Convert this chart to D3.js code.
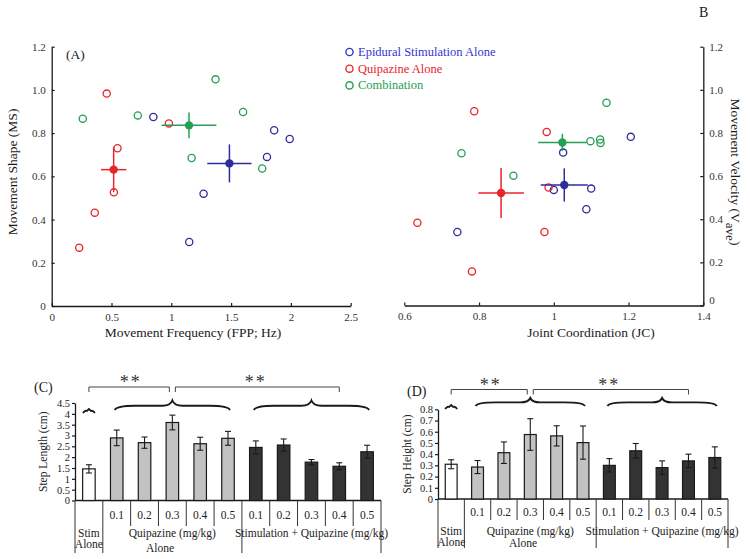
<!DOCTYPE html>
<html><head><meta charset="utf-8">
<script src="https://cdn.jsdelivr.net/npm/d3@7"></script>
<style>
html,body{margin:0;padding:0;background:#fff;}
svg{display:block;font-family:"Liberation Serif","Times New Roman",serif;}
svg text{font-family:"Liberation Serif","Times New Roman",serif;}
</style></head>
<body>
<svg id="c" width="750" height="559"></svg>
<script>
// ---------- DATA ----------
const legendLabels = ["Epidural Stimulation Alone", "Quipazine Alone", "Combination"];
// Panel A: Movement Frequency (x) vs Movement Shape (y)
const epiFreq = [0.85, 1.86, 1.99, 1.80, 1.27, 1.15];
const epiShape = [0.875, 0.813, 0.773, 0.690, 0.520, 0.296];
const quiFreq = [0.46, 0.98, 0.55, 0.52, 0.36, 0.23];
const quiShape = [0.983, 0.845, 0.730, 0.526, 0.432, 0.270];
const comFreq = [1.37, 1.60, 0.26, 0.72, 1.17, 1.76];
const comShape = [1.049, 0.898, 0.867, 0.882, 0.685, 0.636];
const meanFreq = [1.486, 0.518, 1.148];
const meanFreqErr = [0.185, 0.106, 0.229];
const meanShape = [0.660, 0.631, 0.836];
const meanShapeErr = [0.088, 0.104, 0.060];
// Panel B: Joint Coordination (x) vs Movement Velocity (y)
const epiJC = [1.206, 1.025, 1.100, 1.000, 1.087, 0.742];
const epiVel = [0.782, 0.709, 0.542, 0.536, 0.446, 0.341];
const quiJC = [0.787, 0.981, 0.986, 0.635, 0.975, 0.781];
const quiVel = [0.901, 0.805, 0.547, 0.384, 0.341, 0.158];
const comJC = [1.141, 1.098, 1.124, 1.125, 0.753, 0.892];
const comVel = [0.940, 0.762, 0.770, 0.754, 0.706, 0.602];
const meanJC = [1.028, 0.859, 1.023];
const meanJCErr = [0.063, 0.061, 0.065];
const meanVel = [0.559, 0.522, 0.756];
const meanVelErr = [0.077, 0.116, 0.040];
// Ticks
const xTicksA = [0, 0.5, 1, 1.5, 2, 2.5];
const xTickLabelsA = ["0", "0.5", "1", "1.5", "2", "2.5"];
const xTicksB = [0.6, 0.8, 1, 1.2, 1.4];
const xTickLabelsB = ["0.6", "0.8", "1", "1.2", "1.4"];
const yTicksAB = [0, 0.2, 0.4, 0.6, 0.8, 1.0, 1.2];
const yTickLabelsAB = ["0", "0.2", "0.4", "0.6", "0.8", "1.0", "1.2"];
// Panels C & D: bars
const barGroups = ["stim", "qui", "qui", "qui", "qui", "qui", "comb", "comb", "comb", "comb", "comb"];
const doseLabels = ["", "0.1", "0.2", "0.3", "0.4", "0.5", "0.1", "0.2", "0.3", "0.4", "0.5"];
const stepLength = [1.46, 2.89, 2.67, 3.60, 2.62, 2.87, 2.45, 2.56, 1.77, 1.58, 2.25];
const stepLengthErr = [0.19, 0.36, 0.26, 0.34, 0.30, 0.32, 0.30, 0.28, 0.12, 0.16, 0.30];
const stepHeight = [0.31, 0.285, 0.413, 0.575, 0.563, 0.503, 0.30, 0.43, 0.28, 0.34, 0.37];
const stepHeightErr = [0.04, 0.058, 0.096, 0.141, 0.09, 0.148, 0.06, 0.065, 0.06, 0.06, 0.095];
const yTicksC = [0, 0.5, 1, 1.5, 2, 2.5, 3, 3.5, 4, 4.5];
const yTickLabelsC = ["0", "0.5", "1", "1.5", "2", "2.5", "3", "3.5", "4", "4.5"];
const yTicksD = [0, 0.1, 0.2, 0.3, 0.4, 0.5, 0.6, 0.7, 0.8];
const yTickLabelsD = ["0", "0.1", "0.2", "0.3", "0.4", "0.5", "0.6", "0.7", "0.8"];

// ---------- STYLE ----------
const colScatter = ["#2d2d9c", "#e8242c", "#23a052"];
const colLegend = ["#3434cf", "#e8242c", "#23a052"];
const barFill = {stim: "#ffffff", qui: "#c2c2c2", comb: "#333333"};
const ink = "#1a1a1a";
const serif = "'Liberation Serif','Times New Roman',serif";

const svg = d3.select("#c");

function fmtAxis(g) {
  g.attr("font-family", serif);
  g.selectAll("path.domain").attr("stroke", ink).attr("stroke-width", 1.3);
  g.selectAll(".tick line").attr("stroke", ink).attr("stroke-width", 1.2);
  g.selectAll(".tick text").attr("fill", "#333");
}

// ---------- SCATTER ----------
function scatter(opt) {
  const g = svg.append("g");
  const x = d3.scaleLinear().domain(opt.xDom).range(opt.xRange);
  const y = d3.scaleLinear().domain([0, 1.2]).range(opt.yRange);
  const xa = g.append("g").attr("transform", `translate(0,${opt.yRange[0]})`)
    .call(d3.axisBottom(x).tickValues(opt.xTicks).tickFormat((d, i) => opt.xLabels[i]).tickSize(-3).tickSizeOuter(0).tickPadding(7));
  fmtAxis(xa);
  xa.selectAll(".tick text").style("font-size", "11px");
  const axisX = opt.yRight ? opt.xRange[1] : opt.xRange[0];
  const ya = g.append("g").attr("transform", `translate(${axisX},0)`)
    .call((opt.yRight ? d3.axisRight(y) : d3.axisLeft(y)).tickValues(yTicksAB).tickFormat((d, i) => yTickLabelsAB[i]).tickSize(-3).tickSizeOuter(0).tickPadding(6));
  fmtAxis(ya);
  ya.selectAll(".tick text").style("font-size", "11px");
  if (opt.yRight) ya.selectAll(".tick").filter((d) => d === 0).select("text").attr("dy", "-0.2em");

  const groups = [[opt.ex, opt.ey], [opt.qx, opt.qy], [opt.cx, opt.cy]];
  groups.forEach((gr, k) => {
    g.selectAll(null).data(gr[0]).enter().append("circle")
      .attr("cx", (d) => x(d)).attr("cy", (d, i) => y(gr[1][i])).attr("r", 3.6)
      .attr("fill", "none").attr("stroke", colScatter[k]).attr("stroke-width", 1.3);
  });
  opt.mx.forEach((mx, k) => {
    const c = colScatter[k];
    g.append("line").attr("x1", x(mx - opt.mxe[k])).attr("x2", x(mx + opt.mxe[k]))
      .attr("y1", y(opt.my[k])).attr("y2", y(opt.my[k])).attr("stroke", c).attr("stroke-width", 1.5);
    g.append("line").attr("x1", x(mx)).attr("x2", x(mx))
      .attr("y1", y(opt.my[k] - opt.mye[k])).attr("y2", y(opt.my[k] + opt.mye[k])).attr("stroke", c).attr("stroke-width", 1.5);
    g.append("circle").attr("cx", x(mx)).attr("cy", y(opt.my[k])).attr("r", 4.2).attr("fill", c);
  });
}

scatter({xDom: [0, 2.5], xRange: [51.7, 350.7], yRange: [306, 46.7], xTicks: xTicksA, xLabels: xTickLabelsA,
  ex: epiFreq, ey: epiShape, qx: quiFreq, qy: quiShape, cx: comFreq, cy: comShape,
  mx: meanFreq, mxe: meanFreqErr, my: meanShape, mye: meanShapeErr});
scatter({xDom: [0.6, 1.4], xRange: [404.3, 703.3], yRange: [305.5, 46.7], xTicks: xTicksB, xLabels: xTickLabelsB, yRight: true,
  ex: epiJC, ey: epiVel, qx: quiJC, qy: quiVel, cx: comJC, cy: comVel,
  mx: meanJC, mxe: meanJCErr, my: meanVel, mye: meanVelErr});

// titles for scatter panels
svg.append("text").attr("x", 66).attr("y", 59).attr("font-size", 13.5).attr("fill", ink).text("(A)");
svg.append("text").attr("x", 699).attr("y", 17).attr("font-size", 14).attr("fill", ink).text("B");
svg.append("text").attr("transform", "translate(17,172) rotate(-90)").attr("text-anchor", "middle")
  .attr("font-size", 13.5).attr("fill", ink).text("Movement Shape (MS)");
svg.append("text").attr("x", 193).attr("y", 337).attr("text-anchor", "middle")
  .attr("font-size", 13.5).attr("fill", ink).text("Movement Frequency (FPP; Hz)");
svg.append("text").attr("x", 591).attr("y", 337).attr("text-anchor", "middle")
  .attr("font-size", 13.5).attr("fill", ink).text("Joint Coordination (JC)");
const vt = svg.append("text").attr("transform", "translate(731,172) rotate(90)").attr("text-anchor", "middle")
  .attr("font-size", 13.5).attr("fill", ink);
vt.append("tspan").text("Movement Velocity (V");
vt.append("tspan").attr("dy", 5).attr("font-size", 13).text("ave");
vt.append("tspan").attr("dy", -5).text(")");

// legend
legendLabels.forEach((l, i) => {
  const yy = 52 + i * 16.7;
  svg.append("circle").attr("cx", 349.5).attr("cy", yy).attr("r", 3.6).attr("fill", "none")
    .attr("stroke", colLegend[i]).attr("stroke-width", 1.4);
  svg.append("text").attr("x", 358).attr("y", yy + 4).attr("font-size", 12.5).attr("fill", colLegend[i]).text(l);
});

// ---------- BAR PANELS ----------
function brace(g, x0, x1, xm, yb, yt) {
  const ym = yt + (yb - yt) * 0.55;
  const d = 10;
  const p = `M${x0},${yb} Q${x0 + 2},${ym} ${x0 + d * 2},${ym} L${xm - d},${ym} Q${xm - 2},${ym} ${xm},${yt} Q${xm + 2},${ym} ${xm + d},${ym} L${x1 - d * 2},${ym} Q${x1 - 2},${ym} ${x1},${yb}`;
  g.append("path").attr("d", p).attr("fill", "none").attr("stroke", ink).attr("stroke-width", 1.9);
}
function bracket(g, x0, x1, y) {
  g.append("path").attr("d", `M${x0},${y + 5} V${y} H${x1} V${y + 5}`).attr("fill", "none").attr("stroke", "#444").attr("stroke-width", 1);
}

function barPanel(o) {
  const g = svg.append("g");
  const x = d3.scaleBand().domain(d3.range(o.values.length)).range([o.x0, o.x1]).paddingInner(0).paddingOuter(0);
  const y = d3.scaleLinear().domain([0, o.yMax]).range([o.yBase, o.yTop]);
  const slot = x.bandwidth();
  const bw = slot * 0.45;
  // axis
  const ya = g.append("g").attr("transform", `translate(${o.x0},0)`)
    .call(d3.axisLeft(y).tickValues(o.yTicks).tickFormat((d, i) => o.yLabels[i]).tickSize(3).tickSizeOuter(0).tickPadding(2));
  fmtAxis(ya);
  ya.selectAll(".tick text").style("font-size", "10.5px").attr("fill", "#222");
  g.append("line").attr("x1", o.x0).attr("x2", o.x1).attr("y1", o.yBase).attr("y2", o.yBase).attr("stroke", ink).attr("stroke-width", 1.3);
  // bars
  o.values.forEach((v, i) => {
    const cx = x(i) + slot / 2;
    g.append("rect").attr("x", cx - bw / 2).attr("y", y(v)).attr("width", bw).attr("height", o.yBase - y(v))
      .attr("fill", barFill[barGroups[i]]).attr("stroke", ink).attr("stroke-width", 1.2);
    const e = o.errs[i];
    g.append("line").attr("x1", cx).attr("x2", cx).attr("y1", y(v - e)).attr("y2", y(v + e)).attr("stroke", ink).attr("stroke-width", 1.1);
    [v - e, v + e].forEach((t) => g.append("line").attr("x1", cx - 3).attr("x2", cx + 3).attr("y1", y(t)).attr("y2", y(t)).attr("stroke", ink).attr("stroke-width", 1.1));
  });
  // table lines
  d3.range(o.values.length + 1).forEach((i) => {
    const xx = i === o.values.length ? o.x1 : x(i);
    const long = (i === 0 || i === 1 || i === 6 || i === o.values.length);
    g.append("line").attr("x1", xx).attr("x2", xx).attr("y1", o.yBase).attr("y2", long ? o.longEnd : o.shortEnd)
      .attr("stroke", "#333").attr("stroke-width", 1);
  });
  doseLabels.forEach((l, i) => {
    if (!l) return;
    g.append("text").attr("x", x(i) + slot / 2).attr("y", o.doseY).attr("text-anchor", "middle")
      .attr("font-size", 11.5).attr("fill", "#222").text(l);
  });
  const sx = x(0) + slot / 2;
  g.append("text").attr("x", sx).attr("y", o.grpY).attr("text-anchor", "middle").attr("font-size", 11.5).attr("fill", "#222").text("Stim");
  g.append("text").attr("x", sx).attr("y", o.grpY + 11).attr("text-anchor", "middle").attr("font-size", 11.5).attr("fill", "#222").text("Alone");
  g.append("text").attr("x", (x(1) + x(5) + slot) / 2).attr("y", o.grpY).attr("text-anchor", "middle").attr("font-size", 11.5).attr("fill", "#222").text("Quipazine (mg/kg)");
  g.append("text").attr("x", o.aloneX).attr("y", o.grpY + o.aloneDy).attr("text-anchor", "middle").attr("font-size", 11.5).attr("fill", "#222").text("Alone");
  g.append("text").attr("x", (x(6) + o.x1) / 2).attr("y", o.grpY).attr("text-anchor", "middle").attr("font-size", 11.5).attr("fill", "#222").text("Stimulation + Quipazine (mg/kg)");
  // y title
  g.append("text").attr("transform", `translate(${o.titleX},${(o.yBase + o.yTop) / 2}) rotate(-90)`).attr("text-anchor", "middle")
    .attr("font-size", 11.5).attr("fill", "#222").text(o.title);
  g.append("text").attr("x", o.labX).attr("y", o.labY).attr("font-size", 14).attr("fill", ink).text(o.label);
  // significance brackets and braces
  bracket(g, sx, x(3) + slot / 2 - 3, o.brY);
  bracket(g, x(3) + slot / 2 + 3, x(9) + slot / 2, o.brY);
  g.append("text").attr("x", (sx + x(3) + slot / 2) / 2).attr("y", o.brY + 1).attr("text-anchor", "middle").attr("font-size", 18).attr("fill", "#333").attr("letter-spacing", 2).text("**");
  g.append("text").attr("x", (x(3) + x(9) + slot) / 2).attr("y", o.brY + 1).attr("text-anchor", "middle").attr("font-size", 18).attr("fill", "#333").attr("letter-spacing", 2).text("**");
  brace(g, x(1) + slot / 2 - 2, x(5) + slot / 2 + 2, x(3) + slot / 2, o.braceB, o.braceT);
  brace(g, x(6) + slot / 2 - 2, x(10) + slot / 2 + 2, x(8) + slot / 2, o.braceB, o.braceT);
  // small mark over stim alone
  const my = o.braceB + 2;
  g.append("path").attr("d", `M${sx - 6},${my + 1} Q${sx - 4},${my - 2} ${sx - 2},${my - 1} L${sx},${my - 3} L${sx + 2},${my - 1} Q${sx + 4},${my - 2} ${sx + 6},${my + 1}`)
    .attr("fill", "none").attr("stroke", ink).attr("stroke-width", 1.8);
}

barPanel({values: stepLength, errs: stepLengthErr, yMax: 4.5, yTicks: yTicksC, yLabels: yTickLabelsC,
  x0: 75, x1: 381, yBase: 500.5, yTop: 403, longEnd: 553, shortEnd: 526, doseY: 519, grpY: 537,
  aloneX: 160, aloneDy: 15, title: "Step Length (cm)", titleX: 47, label: "(C)", labX: 34, labY: 392,
  brY: 387, braceB: 410, braceT: 400.5});
barPanel({values: stepHeight, errs: stepHeightErr, yMax: 0.8, yTicks: yTicksD, yLabels: yTickLabelsD,
  x0: 438, x1: 728, yBase: 499, yTop: 409.3, longEnd: 548, shortEnd: 520, doseY: 515.5, grpY: 534.5,
  aloneX: 523, aloneDy: 12, title: "Step Height (cm)", titleX: 411, label: "(D)", labX: 407, labY: 396,
  brY: 389.5, braceB: 406, braceT: 398});
</script>
</body></html>
